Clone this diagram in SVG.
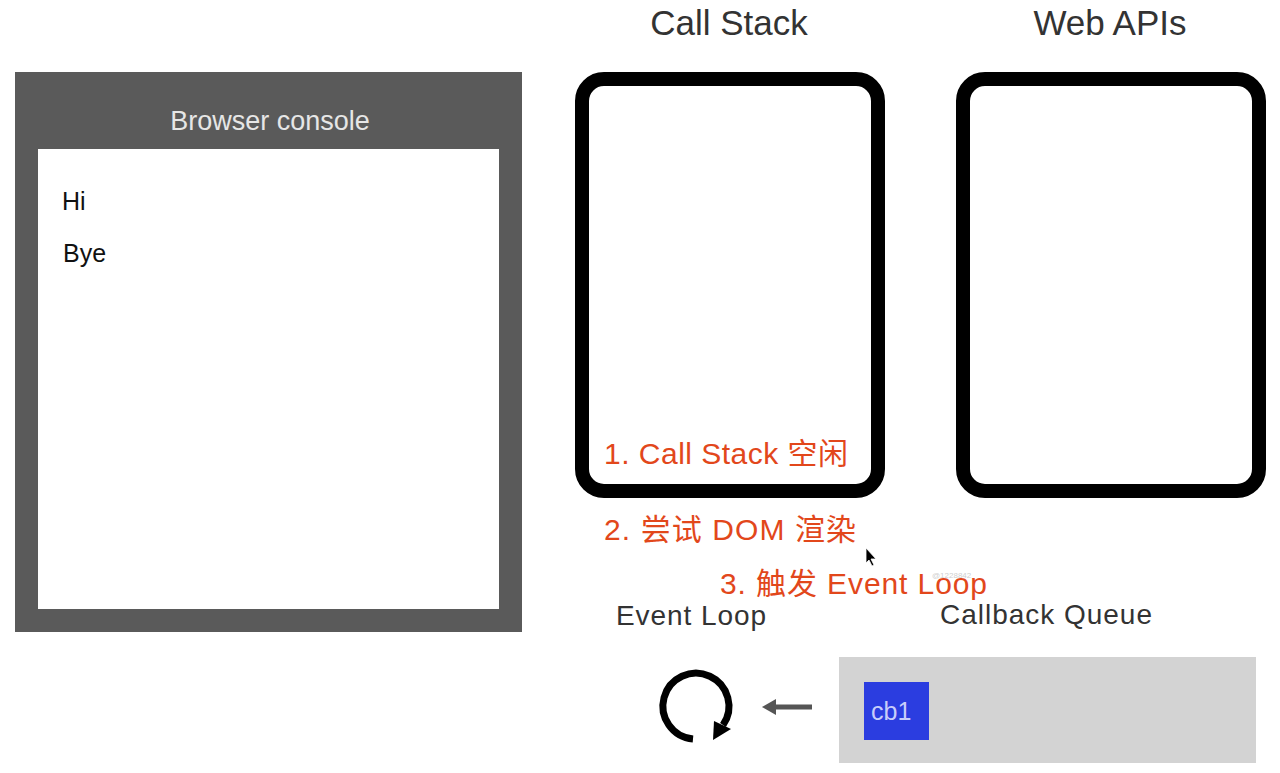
<svg xmlns="http://www.w3.org/2000/svg" width="1280" height="773" viewBox="0 0 1280 773">
<style>
.title{font-family:"Liberation Sans",Arial,sans-serif;font-size:35px;fill:#333;text-anchor:middle}
.lbl{font-family:"Liberation Sans",Arial,sans-serif;font-size:28px;fill:#333}
.red{font-family:"Liberation Sans","Noto Sans CJK SC",sans-serif;font-size:30px;fill:#e2471b}
.box{fill:#fff;stroke:#000;stroke-width:14}
.con{font-family:"Liberation Sans",Arial,sans-serif;font-size:25px;fill:#111}
</style>
<rect width="1280" height="773" fill="#fff"/>
<g id="console">
<rect x="15" y="72" width="507" height="560" fill="#5a5a5a"/>
<rect x="38" y="149" width="461" height="460" fill="#fff"/>
<text x="270" y="130" font-family="Liberation Sans,Arial,sans-serif" font-size="27" fill="#e6e6e6" text-anchor="middle">Browser console</text>
<text class="con" x="62" y="210">Hi</text>
<text class="con" x="63" y="262">Bye</text>
</g>
<g id="callstack">
<text class="title" x="729" y="35">Call Stack</text>
<rect class="box" x="582" y="79" width="296" height="412" rx="22"/>
</g>
<g id="webapis">
<text class="title" x="1110" y="35">Web APIs</text>
<rect class="box" x="963" y="79" width="296" height="412" rx="22"/>
</g>
<g id="eventloop">
<text class="lbl" x="616" y="625" textLength="150">Event Loop</text>
<path d="M693,739 A33,33 0 1 1 723,725" fill="none" stroke="#000" stroke-width="7"/>
<polygon points="713,740 731,729 714,721" fill="#000"/>
</g>
<g id="queue">
<text class="lbl" x="940" y="624" textLength="212">Callback Queue</text>
<rect x="839" y="657" width="417" height="106" fill="#d3d3d3"/>
<g id="cb1">
<rect x="864" y="682" width="65" height="58" fill="#2b3de0"/>
<text x="871" y="720" font-family="Liberation Sans,Arial,sans-serif" font-size="25" fill="#c8cdfa">cb1</text>
</g>
</g>
<g id="connectors">
<line x1="812" y1="707" x2="772" y2="707" stroke="#555" stroke-width="5"/>
<polygon points="762,707 776,699 776,715" fill="#555"/>
</g>
<g id="notes">
<text x="932" y="578" font-family="Liberation Sans,Arial,sans-serif" font-size="8" fill="#cfcfcf">@1228842</text>
<text class="red" x="604" y="464" textLength="244">1. Call Stack 空闲</text>
<text class="red" x="604" y="540" textLength="252">2. 尝试 DOM 渲染</text>
<text class="red" x="720" y="594" textLength="267">3. 触发 Event Loop</text>
</g>
<polygon points="866,548 866,563 869,560 872,566 874,565 871,559 876,559" fill="#000" stroke="#fff" stroke-width="0.8"/>
</svg>
